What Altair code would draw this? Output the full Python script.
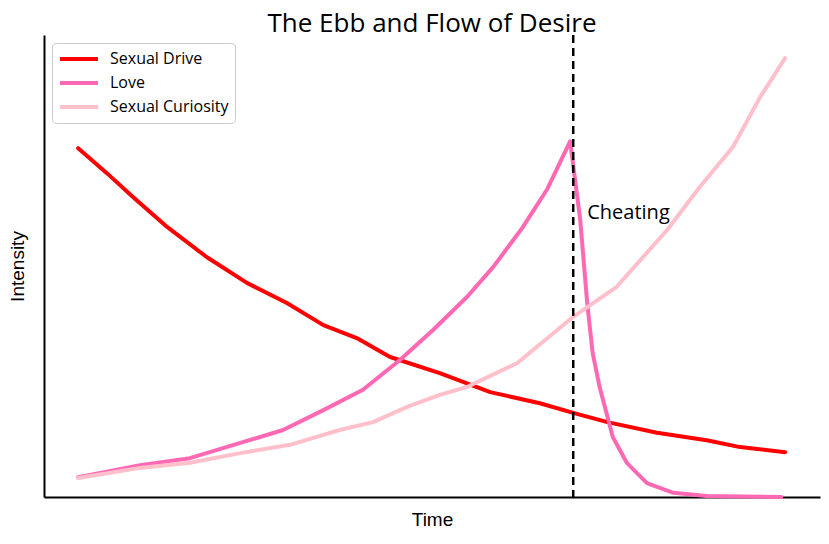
import altair as alt
import pandas as pd

FONT = "Open Sans"
AXFONT = "Liberation Sans"

# Sexual Drive
drive_t = [0.44, 0.81, 1.15, 1.59, 2.10, 2.62, 3.13, 3.60, 4.03, 4.46, 5.10, 5.75, 6.39, 6.82, 7.26, 7.90, 8.54, 8.97, 9.55]
drive_v = [0.755, 0.701, 0.649, 0.584, 0.519, 0.463, 0.420, 0.372, 0.344, 0.303, 0.268, 0.227, 0.203, 0.182, 0.162, 0.139, 0.123, 0.108, 0.097]

# Love
love_t = [0.44, 1.24, 1.88, 2.53, 3.08, 3.60, 4.11, 4.59, 5.01, 5.45, 5.79, 6.17, 6.48, 6.78, 6.91, 7.00, 7.07, 7.16, 7.33, 7.51, 7.77, 8.11, 8.54, 9.50]
love_v = [0.043, 0.069, 0.084, 0.117, 0.145, 0.188, 0.232, 0.297, 0.361, 0.433, 0.498, 0.584, 0.665, 0.770, 0.600, 0.420, 0.312, 0.238, 0.130, 0.074, 0.030, 0.009, 0.002, 0.0]

# Sexual Curiosity
cur_t = [0.44, 1.24, 1.88, 2.53, 3.17, 3.81, 4.24, 4.68, 5.10, 5.45, 6.10, 6.82, 7.38, 8.03, 8.45, 8.88, 9.23, 9.55]
cur_v = [0.041, 0.063, 0.074, 0.095, 0.113, 0.145, 0.162, 0.195, 0.221, 0.238, 0.290, 0.390, 0.455, 0.578, 0.671, 0.758, 0.866, 0.950]

series_names = ["Sexual Drive", "Love", "Sexual Curiosity"]
series_colors = ["#ff0000", "#ff69b4", "#ffc0cb"]

cheating_t = [6.82]
cheating_label = ["Cheating"]
cheating_label_v = [0.615]

rows = []
for name, ts, vs in [("Sexual Drive", drive_t, drive_v), ("Love", love_t, love_v), ("Sexual Curiosity", cur_t, cur_v)]:
    for i, (t, v) in enumerate(zip(ts, vs)):
        rows.append({"series": name, "time": t, "intensity": v, "order": i})
df = pd.DataFrame(rows)

xscale = alt.Scale(domain=[0, 10], nice=False, zero=False)
yscale = alt.Scale(domain=[0, 1], nice=False)

x_axis = alt.Axis(title="Time", labels=False, ticks=False, grid=False, domain=True,
                  domainColor="black", domainWidth=2, titleFontSize=19, titleFont=AXFONT,
                  titleFontWeight="normal", titleColor="black", titlePadding=13)
y_axis = alt.Axis(title="Intensity", labels=False, ticks=False, grid=False, domain=True,
                  domainColor="black", domainWidth=2, titleFontSize=19, titleFont=AXFONT,
                  titleFontWeight="normal", titleColor="black", titlePadding=17)

lines = alt.Chart(df).mark_line(strokeWidth=4, interpolate="linear", strokeJoin="round",
                                strokeCap="round").encode(
    x=alt.X("time:Q", scale=xscale, axis=x_axis),
    y=alt.Y("intensity:Q", scale=yscale, axis=y_axis),
    color=alt.Color("series:N",
                    scale=alt.Scale(domain=series_names, range=series_colors),
                    sort=series_names,
                    legend=alt.Legend(orient="none", legendX=8, legendY=8, title=None,
                                      symbolType="stroke", symbolStrokeWidth=4,
                                      symbolSize=1444, labelFontSize=16, labelFont=FONT,
                                      labelColor="black", strokeColor="#cccccc",
                                      fillColor="white", padding=6, cornerRadius=4,
                                      clipHeight=20, rowPadding=4, labelOffset=10)),
    order="order:Q",
)

cheat_df = pd.DataFrame({"time": cheating_t, "label": cheating_label, "intensity": cheating_label_v})

rule = alt.Chart(cheat_df).mark_rule(color="black", strokeWidth=2.5, strokeDash=[8, 5]).encode(
    x=alt.X("time:Q", scale=xscale),
)

label = alt.Chart(cheat_df).mark_text(align="left", baseline="middle", dx=14, fontSize=20,
                                      font=FONT, color="black").encode(
    x=alt.X("time:Q", scale=xscale),
    y=alt.Y("intensity:Q", scale=yscale),
    text="label:N",
)

chart = alt.layer(lines, rule, label).properties(
    width=776, height=462,
    autosize=alt.AutoSizeParams(type="none"),
    padding={"left": 36, "top": 27, "right": 1, "bottom": 39},
    title=alt.Title("The Ebb and Flow of Desire", fontSize=26, font=FONT,
                    fontWeight="normal", color="black", anchor="middle", offset=-3),
).configure_view(stroke=None)

chart.save("out.html", embed_options={"renderer": "svg", "actions": False})
